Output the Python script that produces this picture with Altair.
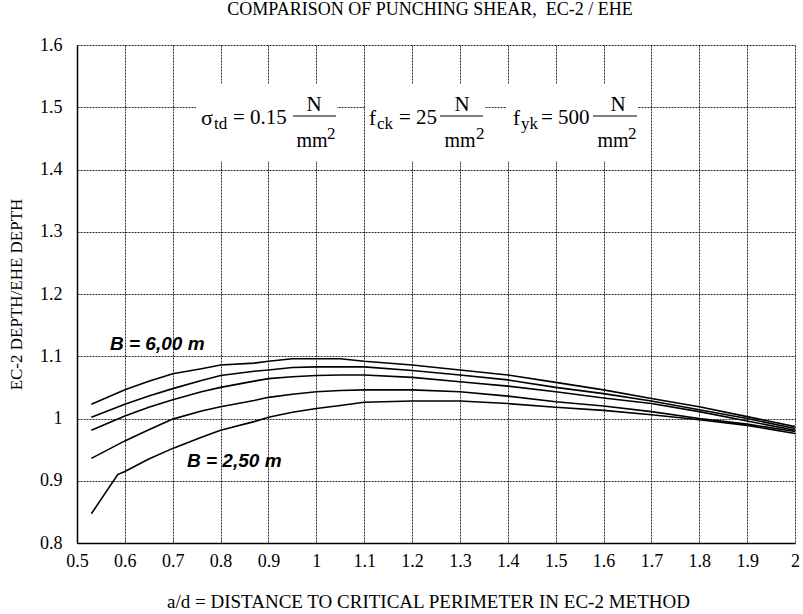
import altair as alt
import pandas as pd

# ---- data ----
X = [0.53, 0.6, 0.65, 0.7, 0.76, 0.8, 0.87, 0.9, 0.95, 1.0, 1.05, 1.1,
     1.2, 1.3, 1.4, 1.5, 1.6, 1.7, 1.8, 1.9, 2.0]
B1 = [1.023, 1.046, 1.060, 1.072, 1.080, 1.086, 1.089, 1.092, 1.096, 1.096, 1.096, 1.092,
      1.086, 1.078, 1.070, 1.058, 1.046, 1.032, 1.019, 1.003, 0.987]
B2 = [1.002, 1.023, 1.036, 1.048, 1.061, 1.069, 1.076, 1.078, 1.082, 1.083, 1.083, 1.083,
      1.077, 1.070, 1.062, 1.050, 1.040, 1.028, 1.014, 1.000, 0.984]
B3 = [0.981, 1.004, 1.018, 1.030, 1.043, 1.050, 1.060, 1.064, 1.067, 1.069, 1.070, 1.070,
      1.066, 1.059, 1.052, 1.043, 1.033, 1.024, 1.011, 0.996, 0.981]
B4 = [0.936, 0.964, 0.982, 0.999, 1.012, 1.019, 1.029, 1.034, 1.039, 1.043, 1.045, 1.046,
      1.046, 1.043, 1.036, 1.027, 1.020, 1.011, 1.000, 0.991, 0.979]
X5 = [0.53, 0.585, 0.6, 0.65, 0.7, 0.76, 0.8, 0.87, 0.9, 0.95, 1.0, 1.05, 1.1,
      1.2, 1.3, 1.4, 1.5, 1.6, 1.7, 1.8, 1.9, 2.0]
B5 = [0.847, 0.910, 0.915, 0.935, 0.952, 0.970, 0.981, 0.995, 1.002, 1.010, 1.016, 1.021, 1.026,
      1.028, 1.028, 1.024, 1.018, 1.013, 1.006, 0.998, 0.989, 0.976]

XTICKS = [0.5, 0.6, 0.7, 0.8, 0.9, 1.0, 1.1, 1.2, 1.3, 1.4, 1.5, 1.6, 1.7, 1.8, 1.9, 2.0]
YTICKS = [0.8, 0.9, 1.0, 1.1, 1.2, 1.3, 1.4, 1.5, 1.6]

TITLE = "COMPARISON OF PUNCHING SHEAR,\u00a0 EC-2 / EHE"
XTITLE = "a/d = DISTANCE TO CRITICAL PERIMETER IN EC-2 METHOD"
YTITLE = "EC-2 DEPTH/EHE DEPTH"

rows = []
for name, xs, ys in [("B1", X, B1), ("B2", X, B2), ("B3", X, B3), ("B4", X, B4), ("B5", X5, B5)]:
    for a, b in zip(xs, ys):
        rows.append({"series": name, "x": a, "y": b})
df = pd.DataFrame(rows)

SERIF = "Liberation Serif"
SANS = "Liberation Sans"
one = alt.Data(values=[{}])

lines = alt.Chart(df).mark_line(color="black", strokeWidth=1.6).encode(
    x=alt.X("x:Q", scale=alt.Scale(domain=[0.5, 2.0], nice=False, zero=False),
            axis=alt.Axis(values=XTICKS, format="~g", title=XTITLE, ticks=False,
                          labelFlush=False, labelPadding=9, titlePadding=22,
                          titleFontSize=19, titleX=351, titleAnchor="middle")),
    y=alt.Y("y:Q", scale=alt.Scale(domain=[0.8, 1.6], nice=False, zero=False),
            axis=alt.Axis(values=YTICKS, format="~g", title=YTITLE, ticks=False,
                          labelFlush=False, labelPadding=15, titlePadding=14,
                          titleFontSize=17)),
    detail="series:N",
)

def box(x1, x2, y1, y2):
    return alt.Chart(one).mark_rect(color="white").encode(
        x=alt.value(x1), x2=alt.value(x2), y=alt.value(y1), y2=alt.value(y2))

def txt(s, x, y, size, align="left", font=SERIF, weight="normal", style="normal"):
    return alt.Chart(one).mark_text(text=s, align=align, baseline="alphabetic", font=font,
                                    fontSize=size, fontWeight=weight, fontStyle=style,
                                    color="black").encode(x=alt.value(x), y=alt.value(y))

def frac_line(x1, x2, y):
    return alt.Chart(one).mark_rule(color="black", strokeWidth=1).encode(
        x=alt.value(x1), x2=alt.value(x2), y=alt.value(y))

layers = [lines,
          box(119, 260, 39, 116), box(288, 408, 39, 116), box(429, 561, 39, 116)]

def fraction(xl, xr, nx, mx, twox):
    return [frac_line(xl, xr, 71),
            txt("N", nx, 66, 21, align="center"),
            txt("mm", mx, 102, 20, align="center"),
            txt("2", twox, 94, 17)]

layers += [txt("σ", 124, 80, 22), txt("td", 137, 84, 17), txt("= 0.15", 156, 79, 21)]
layers += fraction(216, 259, 237, 235, 250)
layers += [txt("f", 292, 80, 21), txt("ck", 300, 84, 17), txt("= 25", 322, 79, 21)]
layers += fraction(363, 406, 385, 383, 399)
layers += [txt("f", 436, 80, 21), txt("yk", 444, 84, 17), txt("= 500", 464, 79, 21)]
layers += fraction(516, 560, 541, 536, 551)

layers += [txt("B = 6,00 m", 33, 305, 19, font=SANS, weight="bold", style="italic"),
           txt("B = 2,50 m", 110, 422, 19, font=SANS, weight="bold", style="italic")]

chart = alt.layer(*layers).properties(
    width=718, height=498,
    autosize=alt.AutoSizeParams(type="none"),
    padding={"left": 77, "top": 45, "right": 8, "bottom": 71},
    title=alt.Title(TITLE, font=SERIF, fontSize=18, fontWeight="normal", color="black",
                    anchor="middle", offset=17, dx=-6),
    background="white",
).configure_view(stroke=None).configure_axis(
    labelFont=SERIF, labelFontSize=18, labelColor="black",
    titleFont=SERIF, titleFontWeight="normal", titleColor="black",
    domainColor="black", domainWidth=1.5,
    gridColor="black", gridDash=[2, 1], gridWidth=1, gridOpacity=0.85,
)

chart.save("out.html", embed_options={"renderer": "svg", "actions": False})
